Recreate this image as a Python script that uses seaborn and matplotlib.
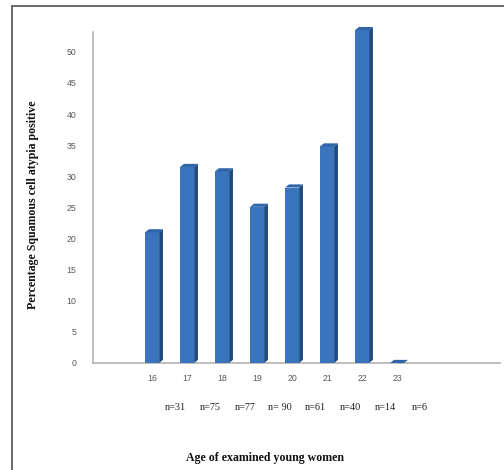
import matplotlib
matplotlib.use("Agg")
import matplotlib.pyplot as plt
from matplotlib.patches import Polygon
from matplotlib.lines import Line2D
import seaborn as sns
import pandas as pd

# Data
ages = ["16", "17", "18", "19", "20", "21", "22", "23"]
percent_positive = [21.0, 31.5, 30.8, 25.1, 28.2, 34.8, 53.5, 0.0]
sample_sizes = ["n=31", "n=75", "n=77", "n= 90", "n=61", "n=40", "n=14", "n=6"]
y_ticks = [0, 5, 10, 15, 20, 25, 30, 35, 40, 45, 50]

x_label = "Age of examined young women"
y_label = "Percentage Squamous cell atypia positive"

FRONT = "#3A74BD"
SIDE = "#1F4A7D"
TOP = "#2E64A8"
AXIS_GRAY = "#B3B3B3"
TICK_GRAY = "#595959"

df = pd.DataFrame({"age": ages, "pct": percent_positive})

sns.set_theme(style="white")
plt.rcParams["font.family"] = ["Liberation Sans", "DejaVu Sans"]

fig = plt.figure(figsize=(5.04, 4.70), dpi=100)
ax = fig.add_axes([0.1845, 0.2277, 0.8075, 0.7043])

bar_w = 0.4
sns.barplot(data=df, x="age", y="pct", order=ages, color=FRONT,
            width=bar_w, saturation=1, ax=ax, zorder=3)

ax.set_xlim(-1.69, 9.94)
ax.set_ylim(0, 53.2)

# Depth faces (side and top) for a pseudo-3D column look
dx, dy = 0.11, 0.5
for patch in ax.patches[:len(ages)]:
    patch.set_clip_on(False)
    patch.set_edgecolor("none")
    x0 = patch.get_x()
    x1 = x0 + patch.get_width()
    h = patch.get_height()
    side = Polygon([(x1, 0), (x1 + dx, dy), (x1 + dx, h + dy), (x1, h)],
                   closed=True, facecolor=SIDE, edgecolor="none",
                   clip_on=False, zorder=3)
    top = Polygon([(x0, h), (x0 + dx, h + dy), (x1 + dx, h + dy), (x1, h)],
                  closed=True, facecolor=TOP, edgecolor="none",
                  clip_on=False, zorder=3)
    ax.add_patch(side)
    ax.add_patch(top)

# Axes styling
for s in ["top", "right"]:
    ax.spines[s].set_visible(False)
for s in ["left", "bottom"]:
    ax.spines[s].set_color(AXIS_GRAY)
    ax.spines[s].set_linewidth(1.2)

ax.set_yticks(y_ticks)
ax.set_yticklabels([str(t) for t in y_ticks])
ax.tick_params(axis="y", length=0, pad=12, labelsize=6.3, labelcolor=TICK_GRAY)
ax.tick_params(axis="x", length=0, pad=8, labelsize=6.3, labelcolor=TICK_GRAY)
ax.set_xlabel("")
ax.set_ylabel("")
ax.grid(False)

# Sample sizes under each age
for i, lab in enumerate(sample_sizes):
    ax.text(i + 0.66, -7.1, lab, ha="center", va="center", fontsize=7.4,
            family="Liberation Serif", color="#222222", clip_on=False)

fig.text(265 / 504, 1 - 458 / 470, x_label, ha="center", va="center",
         fontsize=8.6, fontweight="bold", family="Liberation Serif",
         color="#111111")
fig.text(33 / 504, 1 - 205 / 470, y_label, ha="center", va="center",
         rotation=90, fontsize=8.6, fontweight="bold",
         family="Liberation Serif", color="#111111")

# Outer frame
fx = 12 / 504
fy = 1 - 6 / 470
fig.add_artist(Line2D([fx, 1.0], [fy, fy], transform=fig.transFigure,
                      color="#5E5E5E", linewidth=1.3))
fig.add_artist(Line2D([fx, fx], [0.0, fy], transform=fig.transFigure,
                      color="#5E5E5E", linewidth=1.3))

fig.savefig("out.png", dpi=100)
